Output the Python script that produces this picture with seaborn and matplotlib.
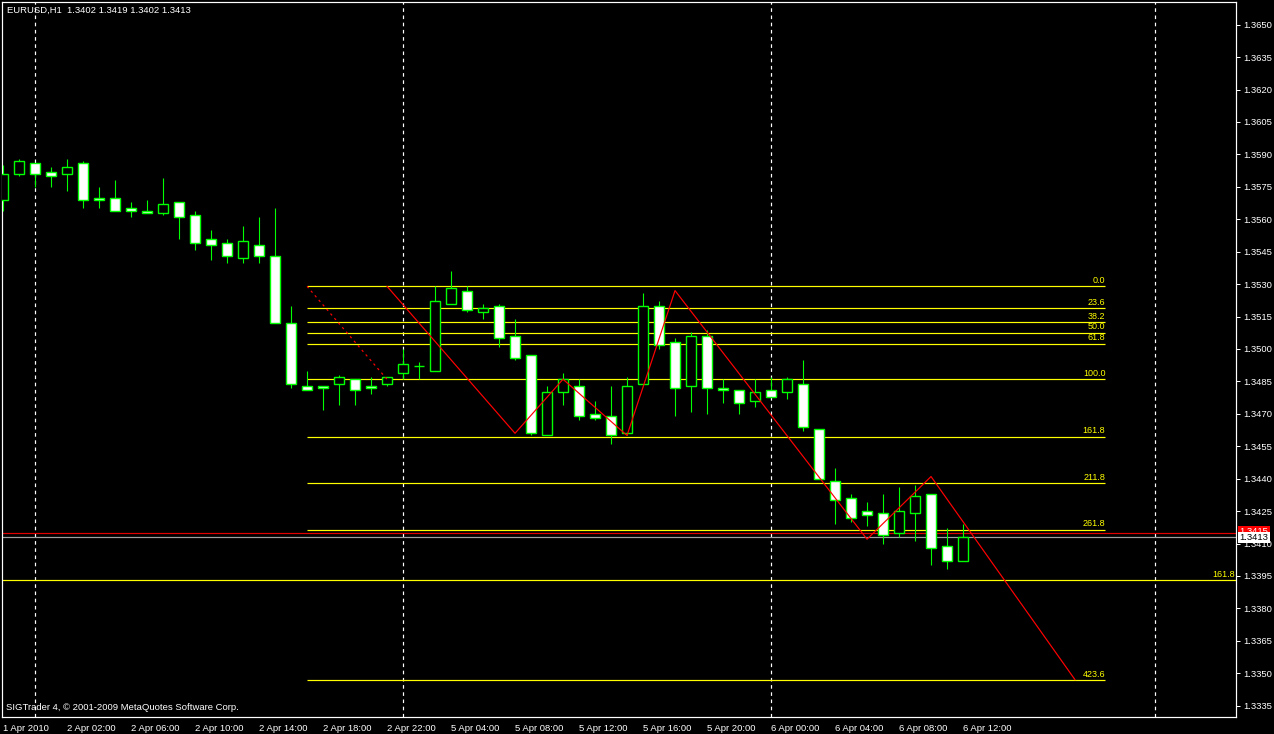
import matplotlib
matplotlib.use("Agg")
import matplotlib.pyplot as plt
import seaborn as sns
import pandas as pd

# hourly EURUSD bars, 1 Apr 22:00 .. 6 Apr 12:00 (bar index 0..60)
opens = [1.3569, 1.3581, 1.3586, 1.3582, 1.3581, 1.3586, 1.3570, 1.3570, 1.3565, 1.3564,
         1.3563, 1.3568, 1.3562, 1.3551, 1.3549, 1.3542, 1.3548, 1.3543, 1.3512, 1.3483,
         1.3483, 1.3484, 1.3486, 1.3483, 1.3484, 1.3489, 1.3492, 1.3490, 1.3521, 1.3527,
         1.3517, 1.3520, 1.3506, 1.3497, 1.3460, 1.3480, 1.3483, 1.3470, 1.3469, 1.3461,
         1.3484, 1.3520, 1.3503, 1.3483, 1.3506, 1.3482, 1.3481, 1.3476, 1.3481, 1.3480,
         1.3484, 1.3463, 1.3439, 1.3431, 1.3425, 1.3424, 1.3415, 1.3424, 1.3433, 1.3409,
         1.3402]
highs = [1.3585, 1.3588, 1.3586, 1.3584, 1.3588, 1.3587, 1.3575, 1.3578, 1.3568, 1.3569,
         1.3579, 1.3568, 1.3564, 1.3555, 1.3551, 1.3557, 1.3561, 1.3565, 1.3520, 1.3490,
         1.3483, 1.3488, 1.3486, 1.3487, 1.3487, 1.3500, 1.3494, 1.3529, 1.3536, 1.3529,
         1.3521, 1.3521, 1.3514, 1.3497, 1.3483, 1.3489, 1.3486, 1.3476, 1.3483, 1.3487,
         1.3526, 1.3522, 1.3505, 1.3508, 1.3509, 1.3486, 1.3481, 1.3486, 1.3487, 1.3487,
         1.3495, 1.3463, 1.3445, 1.3433, 1.3429, 1.3433, 1.3436, 1.3437, 1.3433, 1.3417,
         1.3419]
lows = [1.3564, 1.3580, 1.3575, 1.3575, 1.3573, 1.3565, 1.3565, 1.3564, 1.3561, 1.3563,
        1.3562, 1.3551, 1.3546, 1.3541, 1.3540, 1.3540, 1.3540, 1.3512, 1.3482, 1.3481,
        1.3472, 1.3474, 1.3474, 1.3479, 1.3483, 1.3486, 1.3486, 1.3490, 1.3521, 1.3517,
        1.3514, 1.3501, 1.3495, 1.3460, 1.3460, 1.3474, 1.3467, 1.3467, 1.3456, 1.3460,
        1.3484, 1.3500, 1.3469, 1.3471, 1.3470, 1.3475, 1.3470, 1.3473, 1.3478, 1.3477,
        1.3462, 1.3440, 1.3419, 1.3420, 1.3418, 1.3410, 1.3413, 1.3411, 1.3400, 1.3398,
        1.3402]
closes = [1.3581, 1.3587, 1.3581, 1.3580, 1.3584, 1.3569, 1.3569, 1.3564, 1.3564, 1.3563,
          1.3567, 1.3561, 1.3549, 1.3548, 1.3543, 1.3550, 1.3543, 1.3512, 1.3484, 1.3481,
          1.3482, 1.3487, 1.3481, 1.3482, 1.3487, 1.3493, 1.3492, 1.3522, 1.3528, 1.3518,
          1.3519, 1.3505, 1.3496, 1.3461, 1.3480, 1.3486, 1.3469, 1.3468, 1.3460, 1.3483,
          1.3520, 1.3502, 1.3482, 1.3506, 1.3482, 1.3481, 1.3475, 1.3480, 1.3478, 1.3486,
          1.3464, 1.3440, 1.3430, 1.3422, 1.3423, 1.3414, 1.3425, 1.3432, 1.3408, 1.3402,
          1.3413]

time_labels = ["1 Apr 2010", "2 Apr 02:00", "2 Apr 06:00", "2 Apr 10:00", "2 Apr 14:00",
               "2 Apr 18:00", "2 Apr 22:00", "5 Apr 04:00", "5 Apr 08:00", "5 Apr 12:00",
               "5 Apr 16:00", "5 Apr 20:00", "6 Apr 00:00", "6 Apr 04:00", "6 Apr 08:00",
               "6 Apr 12:00"]
time_label_bars = list(range(0, 61, 4))
day_separator_bars = [2, 25, 48, 72]

# fibonacci retracement / expansion
fib_anchor_bars = [19, 24]
fib_anchor_prices = [1.3529, 1.3486]
fib_levels = [0.0, 23.6, 38.2, 50.0, 61.8, 100.0, 161.8, 211.8, 261.8, 423.6]
fib_end_bar = 68.9
extra_level_price = 1.3393
extra_level_label = "161.8"

# red zigzag
zigzag_bars = [24, 32, 35, 39, 42, 54, 58, 67]
zigzag_prices = [1.3529, 1.3461, 1.3486, 1.3460, 1.3527, 1.3412, 1.3441, 1.3347]

bid_price = 1.3413
ask_price = 1.3415
price_ticks = [1.3335 + 0.0015 * k for k in range(22)]

df = pd.DataFrame({"bar": range(len(opens)), "open": opens, "high": highs,
                   "low": lows, "close": closes})
df["bull"] = df["close"] > df["open"]

sns.set_style("dark", {"axes.facecolor": "black", "figure.facecolor": "black"})
plt.rcParams["font.family"] = ["Liberation Sans", "DejaVu Sans"]

fig = plt.figure(figsize=(12.74, 7.34), dpi=100, facecolor="black")
ax = fig.add_axes([2 / 1274, 1 - 717 / 734, 1234 / 1274, 715 / 734])
ax.set_facecolor("black")
px = 0.72  # one pixel in points
green = "#00FF00"
yellow = "#FFFF00"

# wicks
ax.vlines(df["bar"], df["low"], df["high"], color=green, lw=1.1 * px, zorder=3)
# bodies
body_low = df[["open", "close"]].min(axis=1)
body_h = (df["close"] - df["open"]).abs()
face = ["black" if b else "white" for b in df["bull"]]
ax.bar(df["bar"], body_h, bottom=body_low, width=0.58, color=face,
       edgecolor=green, linewidth=1.4 * px, zorder=4)

# day separators
for b in day_separator_bars:
    ax.axvline(b, color="white", lw=1.2 * px, ls=(0, (3, 3)), zorder=1)

# fibonacci levels
hi, lo = fib_anchor_prices
for lvl in fib_levels:
    p = hi - lvl / 100 * (hi - lo)
    ax.hlines(p, fib_anchor_bars[0], fib_end_bar, color=yellow, lw=1.2 * px, zorder=2)
    ax.text(fib_end_bar, p + 0.00006, f"{lvl:.1f}", color=yellow, fontsize=6.5,
            ha="right", va="bottom", zorder=6)
ax.plot(fib_anchor_bars, fib_anchor_prices, color="#FF0000", lw=1.2 * px,
        ls=(0, (2, 3)), zorder=5)

ax.axhline(extra_level_price, color=yellow, lw=1.2 * px, zorder=2)
ax.text(77.0, extra_level_price + 0.00006, extra_level_label, color=yellow,
        fontsize=6.5, ha="right", va="bottom", zorder=6)

# bid / ask lines
ax.axhline(ask_price, color="#E00000", lw=1.2 * px, zorder=2)
ax.axhline(bid_price, color="#A0A0A0", lw=1.2 * px, zorder=2)

# zigzag
zz = pd.DataFrame({"bar": zigzag_bars, "price": zigzag_prices})
sns.lineplot(data=zz, x="bar", y="price", color="#FF0000", lw=1.2 * px, ax=ax,
             zorder=5, sort=False)

ax.set_xlim(-0.0625, 77.06)
ax.set_ylim(1.332977, 1.366050)
ax.set_xlabel("")
ax.set_ylabel("")
ax.grid(False)

for s in ax.spines.values():
    s.set_visible(True)
    s.set_color("white")
    s.set_linewidth(1.2 * px)

ax.yaxis.tick_right()
ax.set_yticks(price_ticks)
ax.set_yticklabels([f"{p:.4f}" for p in price_ticks])
ax.tick_params(axis="y", colors="white", labelsize=6.8, length=3, width=px,
               direction="out", pad=2)
ax.set_xticks(time_label_bars)
ax.set_xticklabels(time_labels, ha="left")
ax.tick_params(axis="x", colors="white", labelsize=6.8, length=4, width=px,
               direction="out", pad=1)

# price boxes on the right scale
ax.annotate(f"{ask_price:.4f}", xy=(1.003, ask_price + 0.00005), xycoords=("axes fraction", "data"),
            color="white", fontsize=6.8, ha="left", va="center", annotation_clip=False,
            bbox=dict(boxstyle="square,pad=0.15", fc="#FF0000", ec="none"), zorder=7)
ax.annotate(f"{bid_price:.4f}", xy=(1.003, bid_price - 0.00002), xycoords=("axes fraction", "data"),
            color="black", fontsize=6.8, ha="left", va="center", annotation_clip=False,
            bbox=dict(boxstyle="square,pad=0.15", fc="white", ec="none"), zorder=8)

fig.text(7 / 1274, 1 - 10 / 734, "EURUSD,H1  1.3402 1.3419 1.3402 1.3413",
         color="white", fontsize=6.8, ha="left", va="center")
fig.text(6 / 1274, 1 - 708 / 734, "SIGTrader 4, © 2001-2009 MetaQuotes Software Corp.",
         color="white", fontsize=6.8, ha="left", va="center")

fig.savefig("out.png", dpi=100, facecolor="black")
